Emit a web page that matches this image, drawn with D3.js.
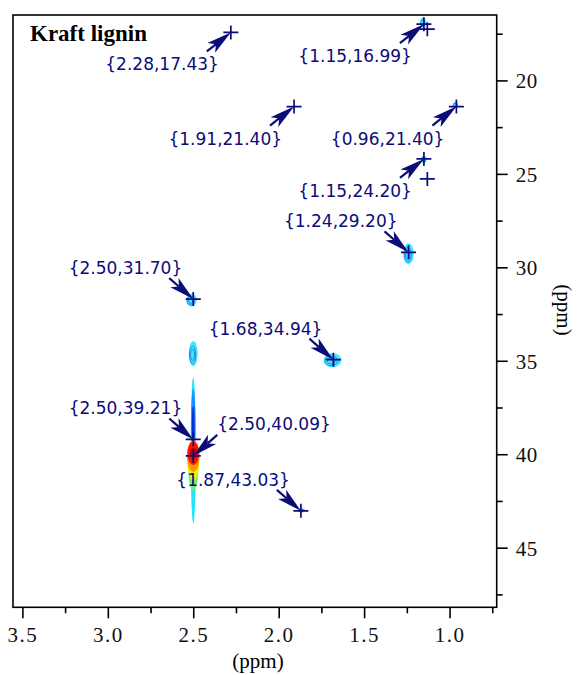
<!DOCTYPE html>
<html>
<head>
<meta charset="utf-8">
<script src="https://cdn.jsdelivr.net/npm/d3@7"></script>
<style>
  body { margin: 0; background: #fff; }
  svg { display: block; }
</style>
</head>
<body>
<div id="chart"></div>
<script>
// Picked peaks (ppm)
var peakX = [2.28, 1.15, 1.91, 0.96, 1.15, 1.24, 2.50, 1.68, 2.50, 2.50, 1.87];
var peakY = [17.43, 16.99, 21.40, 21.40, 24.20, 29.20, 31.70, 34.94, 39.21, 40.09, 43.03];
// where the callout sits relative to its peak
var peakSide = ["belowLeft", "belowLeft", "belowLeft", "belowLeft", "belowLeft",
  "aboveLeft", "aboveLeft", "aboveLeft", "aboveLeft", "aboveRight", "aboveLeft"];

// crosses without a callout
var extraX = [1.13, 1.13];
var extraY = [17.26, 25.27];

// small contour spots (centre and half widths in ppm)
var spotX = [2.51, 2.50, 1.685, 1.24, 1.155, 1.15, 0.965, 1.865];
var spotY = [31.75, 34.62, 34.97, 29.27, 16.90, 24.22, 21.32, 43.00];
var spotRx = [0.030, 0.026, 0.052, 0.030, 0.016, 0.016, 0.016, 0.020];
var spotRy = [0.34, 0.66, 0.38, 0.56, 0.26, 0.20, 0.16, 0.11];

// the big DMSO streak at 2.50 ppm, outer level first
var streakY = [39.8, 38.4, 38.5, 40.6, 40.35, 40.1, 39.95, 39.95];
var streakRy = [3.9, 1.9, 1.1, 1.35, 1.05, 0.85, 0.62, 0.3];
var streakRx = [0.015, 0.013, 0.008, 0.031, 0.035, 0.037, 0.034, 0.02];
var streakColors = ["#20e4ff", "#1e8cff", "#0030d0", "#70f070", "#f0f000", "#ff9400", "#ff1400", "#b40000"];

var xMajor = [3.5, 3.0, 2.5, 2.0, 1.5, 1.0];
var xMinor = [3.25, 2.75, 2.25, 1.75, 1.25, 0.75];
var yMajor = [20, 25, 30, 35, 40, 45];
var yMinor = [17.5, 22.5, 27.5, 32.5, 37.5, 42.5, 47.5];

var W = 577, H = 675;
var margin = {top: 15, right: 80.3, bottom: 67.7, left: 13};
var navy = "#0c0c78";
var serif = "'Liberation Serif', 'Times New Roman', serif";

var svg = d3.select("#chart").append("svg")
  .attr("width", W).attr("height", H);

var x = d3.scaleLinear().domain([3.555, 0.724]).range([margin.left, W - margin.right]);
var y = d3.scaleLinear().domain([16.5, 48.19]).range([margin.top, H - margin.bottom]);

var plot = svg.append("g");

// contours
plot.selectAll("ellipse.streak").data(streakY).enter().append("ellipse")
  .attr("class", "streak")
  .attr("cx", x(2.50))
  .attr("cy", function(d) { return y(d); })
  .attr("rx", function(d, i) { return x(2.50 - streakRx[i]) - x(2.50); })
  .attr("ry", function(d, i) { return y(d + streakRy[i]) - y(d); })
  .attr("fill", function(d, i) { return streakColors[i]; });

spotX.forEach(function(sx, i) {
  var rx = x(sx - spotRx[i]) - x(sx);
  var ry = y(spotY[i] + spotRy[i]) - y(spotY[i]);
  plot.append("ellipse")
    .attr("cx", x(sx)).attr("cy", y(spotY[i]))
    .attr("rx", rx).attr("ry", ry)
    .attr("fill", "#3ee8ff");
  // inner contour rings
  [0.7, 0.45].forEach(function(k) {
    if (rx * k < 1.5) return;
    plot.append("ellipse")
      .attr("cx", x(sx) - rx * 0.15).attr("cy", y(spotY[i]) + ry * 0.1)
      .attr("rx", rx * k).attr("ry", ry * k)
      .attr("fill", "none")
      .attr("stroke", "#2a7cf0")
      .attr("stroke-width", 0.9);
  });
});

// frame
svg.append("rect")
  .attr("x", margin.left).attr("y", margin.top)
  .attr("width", W - margin.left - margin.right)
  .attr("height", H - margin.top - margin.bottom)
  .attr("fill", "none").attr("stroke", "#000").attr("stroke-width", 1.6);

// bottom axis
var xAxis = svg.append("g").attr("transform", "translate(0," + (H - margin.bottom) + ")");
xAxis.call(d3.axisBottom(x).tickValues(xMajor).tickFormat(d3.format(".1f")).tickSize(11).tickSizeOuter(0));
xAxis.append("g").call(d3.axisBottom(x).tickValues(xMinor).tickFormat("").tickSize(6).tickSizeOuter(0));

// right axis
var yAxis = svg.append("g").attr("transform", "translate(" + (W - margin.right) + ",0)");
yAxis.call(d3.axisRight(y).tickValues(yMajor).tickFormat(d3.format("d")).tickSize(11).tickSizeOuter(0));
yAxis.append("g").call(d3.axisRight(y).tickValues(yMinor).tickFormat("").tickSize(6).tickSizeOuter(0));

svg.selectAll(".domain").remove();
svg.selectAll(".tick line").attr("stroke", "#000").attr("stroke-width", 1.6);
svg.selectAll(".tick text")
  .attr("font-family", serif)
  .attr("font-size", 21)
  .attr("fill", "#111");
xAxis.selectAll(".tick text").attr("dy", "1.0em").attr("letter-spacing", 1.5);
yAxis.selectAll(".tick text").attr("dx", 5).attr("dy", "0.36em").attr("letter-spacing", 0.5);

// axis titles
svg.append("text")
  .attr("x", 258).attr("y", 668)
  .attr("text-anchor", "middle")
  .attr("font-family", serif)
  .attr("font-size", 21)
  .text("(ppm)");
svg.append("text")
  .attr("transform", "translate(557,310) rotate(90)")
  .attr("text-anchor", "middle")
  .attr("font-family", serif)
  .attr("font-size", 21)
  .text("(ppm)");

// title
svg.append("text")
  .attr("x", 30).attr("y", 41)
  .attr("font-family", serif)
  .attr("font-weight", "bold")
  .attr("font-size", 23)
  .text("Kraft lignin");

// callouts: tail offset of the arrow and text anchor for each side
var sides = {
  belowLeft: {dx: -24, dy: 19, tx: -12, ty: 38, anchor: "end"},
  aboveLeft: {dx: -24, dy: -21, tx: -11, ty: -25, anchor: "end"},
  aboveRight: {dx: 24, dy: -21, tx: 24, ty: -26, anchor: "start"}
};

function arrowPath(px, py, dx, dy) {
  var len = Math.sqrt(dx * dx + dy * dy);
  var ux = dx / len, uy = dy / len;
  var nx = -uy, ny = ux;
  var base = 25, notch = 19, w = 6.2;
  var bx = px + ux * base, by = py + uy * base;
  return "M" + px + "," + py +
    "L" + (bx + nx * w) + "," + (by + ny * w) +
    "L" + (px + ux * notch) + "," + (py + uy * notch) +
    "L" + (bx - nx * w) + "," + (by - ny * w) + "Z";
}

var marks = svg.append("g");

peakX.forEach(function(px0, i) {
  var px = x(px0), py = y(peakY[i]);
  var s = sides[peakSide[i]];
  marks.append("line")
    .attr("x1", px + s.dx * 0.6).attr("y1", py + s.dy * 0.6)
    .attr("x2", px + s.dx).attr("y2", py + s.dy)
    .attr("stroke", navy).attr("stroke-width", 2.2);
  marks.append("path")
    .attr("d", arrowPath(px, py, s.dx, s.dy))
    .attr("fill", navy);
  marks.append("text")
    .attr("x", px + s.tx).attr("y", py + s.ty)
    .attr("text-anchor", s.anchor)
    .attr("font-family", "'DejaVu Sans', Verdana, sans-serif")
    .attr("font-size", 17)
    .attr("fill", navy)
    .text("{" + px0.toFixed(2) + "," + peakY[i].toFixed(2) + "}");
});

function cross(cx, cy) {
  marks.append("path")
    .attr("d", "M" + (cx - 7.5) + "," + cy + "H" + (cx + 7.5) + "M" + cx + "," + (cy - 7) + "V" + (cy + 7))
    .attr("stroke", navy).attr("stroke-width", 1.7).attr("fill", "none");
}
peakX.forEach(function(px0, i) { cross(x(px0), y(peakY[i])); });
extraX.forEach(function(ex, i) { cross(x(ex), y(extraY[i])); });
</script>
</body>
</html>
